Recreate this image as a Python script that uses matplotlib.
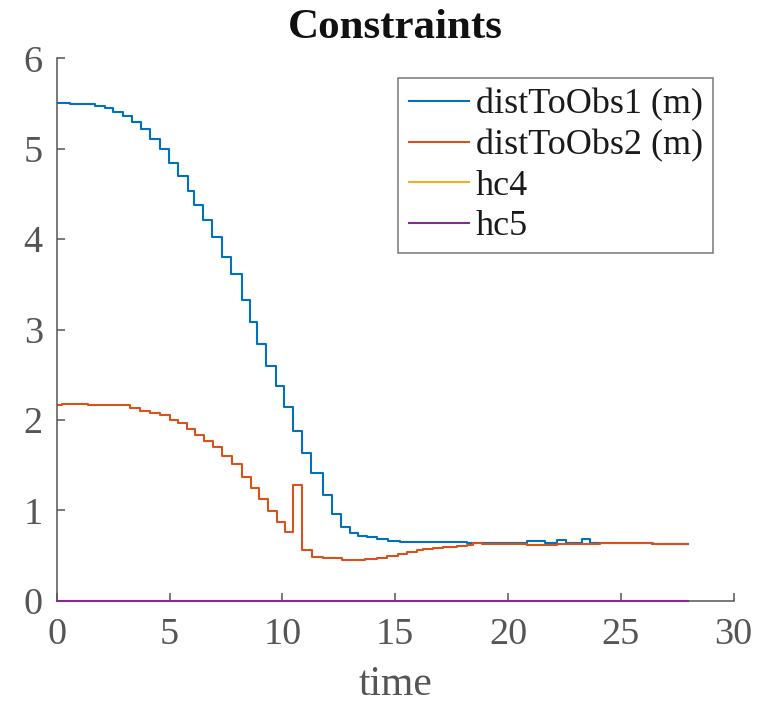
import matplotlib
matplotlib.use("Agg")
import matplotlib.pyplot as plt
import numpy as np

plt.rcParams['font.family'] = ['Liberation Serif', 'DejaVu Serif']

# step start times / held values
t_obs1 = [0, 0.59, 1.70, 2.14, 2.51, 2.92, 3.32, 3.73, 4.13, 4.58, 4.99, 5.39, 5.80,
          6.08, 6.50, 6.89, 7.31, 7.72, 8.20, 8.56, 8.89, 9.27, 9.72, 10.08, 10.48,
          10.86, 11.27, 11.79, 12.18, 12.60, 13.00, 13.36, 13.74, 14.18, 14.68, 15.21,
          16.69, 18.17, 20.82, 21.63, 22.15, 22.55, 23.26, 23.63, 26.40, 27.98]
obs1 = [5.502, 5.494, 5.476, 5.447, 5.406, 5.365, 5.299, 5.218, 5.104, 4.993, 4.838,
        4.701, 4.529, 4.377, 4.212, 4.027, 3.805, 3.617, 3.326, 3.086, 2.843, 2.600,
        2.378, 2.146, 1.877, 1.634, 1.416, 1.169, 0.959, 0.819, 0.752, 0.719, 0.701,
        0.683, 0.664, 0.653, 0.649, 0.638, 0.660, 0.638, 0.668, 0.638, 0.679, 0.634,
        0.631, 0.631]

t_obs2 = [0, 0.22, 1.40, 3.25, 3.69, 4.13, 4.58, 5.02, 5.39, 5.79, 6.13, 6.53, 6.94,
          7.31, 7.75, 8.20, 8.61, 8.98, 9.38, 9.75, 10.12, 10.48, 10.88, 11.30, 11.81,
          12.63, 13.66, 14.18, 14.62, 15.14, 15.51, 15.95, 16.24, 16.69, 17.13, 17.72,
          18.17, 18.46, 18.83, 20.82, 22.15, 24.07, 26.43, 27.98]
obs2 = [2.165, 2.176, 2.168, 2.128, 2.102, 2.080, 2.051, 2.002, 1.962, 1.896, 1.836,
        1.767, 1.700, 1.601, 1.509, 1.372, 1.243, 1.122, 0.989, 0.874, 0.760, 1.277,
        0.561, 0.480, 0.469, 0.450, 0.461, 0.476, 0.498, 0.517, 0.535, 0.558, 0.575,
        0.586, 0.594, 0.605, 0.616, 0.642, 0.627, 0.619, 0.627, 0.642, 0.631, 0.631]

t_hc = [0, 27.98]
hc4 = [0, 0]
hc5 = [0, 0]

labels = ['distToObs1 (m)', 'distToObs2 (m)', 'hc4', 'hc5']
colors = ['#0072BD', '#D95319', '#EDB120', '#7E2F8E']
axcol = '#555555'

fig = plt.figure(figsize=(7.64, 7.03), dpi=100)
ax = fig.add_axes([0.0742, 0.1455, 0.8861, 0.7715])

ax.plot(t_obs1, obs1, drawstyle='steps-post', c=colors[0], lw=1.5, label=labels[0])
ax.plot(t_obs2, obs2, drawstyle='steps-post', c=colors[1], lw=1.5, label=labels[1])
ax.plot(t_hc, hc4, c=colors[2], lw=1.5, label=labels[2], clip_on=False, zorder=5)
ax.plot(t_hc, hc5, c=colors[3], lw=1.5, label=labels[3], clip_on=False, zorder=6)

ax.set_xlim(0, 30)
ax.set_ylim(0, 6)
ax.set_xticks(np.arange(0, 31, 5))
ax.set_yticks(np.arange(0, 7, 1))

for s in ['top', 'right']:
    ax.spines[s].set_visible(False)
for s in ['left', 'bottom']:
    ax.spines[s].set_color(axcol)
    ax.spines[s].set_linewidth(1.1)

ax.tick_params(direction='in', length=6, width=1.1, colors=axcol, labelsize=27.5)
ax.tick_params(axis='x', pad=12)
ax.tick_params(axis='y', pad=10)

ax.set_xlabel('time', fontsize=30, color=axcol, labelpad=10)
ax.set_title('Constraints', fontsize=31, fontweight='bold', color='#111111', pad=14.5)

leg = ax.legend(loc='upper right', bbox_to_anchor=(0.970, 0.963), borderaxespad=0,
                fontsize=26, frameon=True, fancybox=False, handlelength=1.67,
                handletextpad=0.2, labelspacing=0.2, borderpad=0.28)
leg.get_frame().set_edgecolor(axcol)
leg.get_frame().set_linewidth(1.1)
for txt in leg.get_texts():
    txt.set_color('#1a1a1a')

fig.savefig('out.png', dpi=100)
